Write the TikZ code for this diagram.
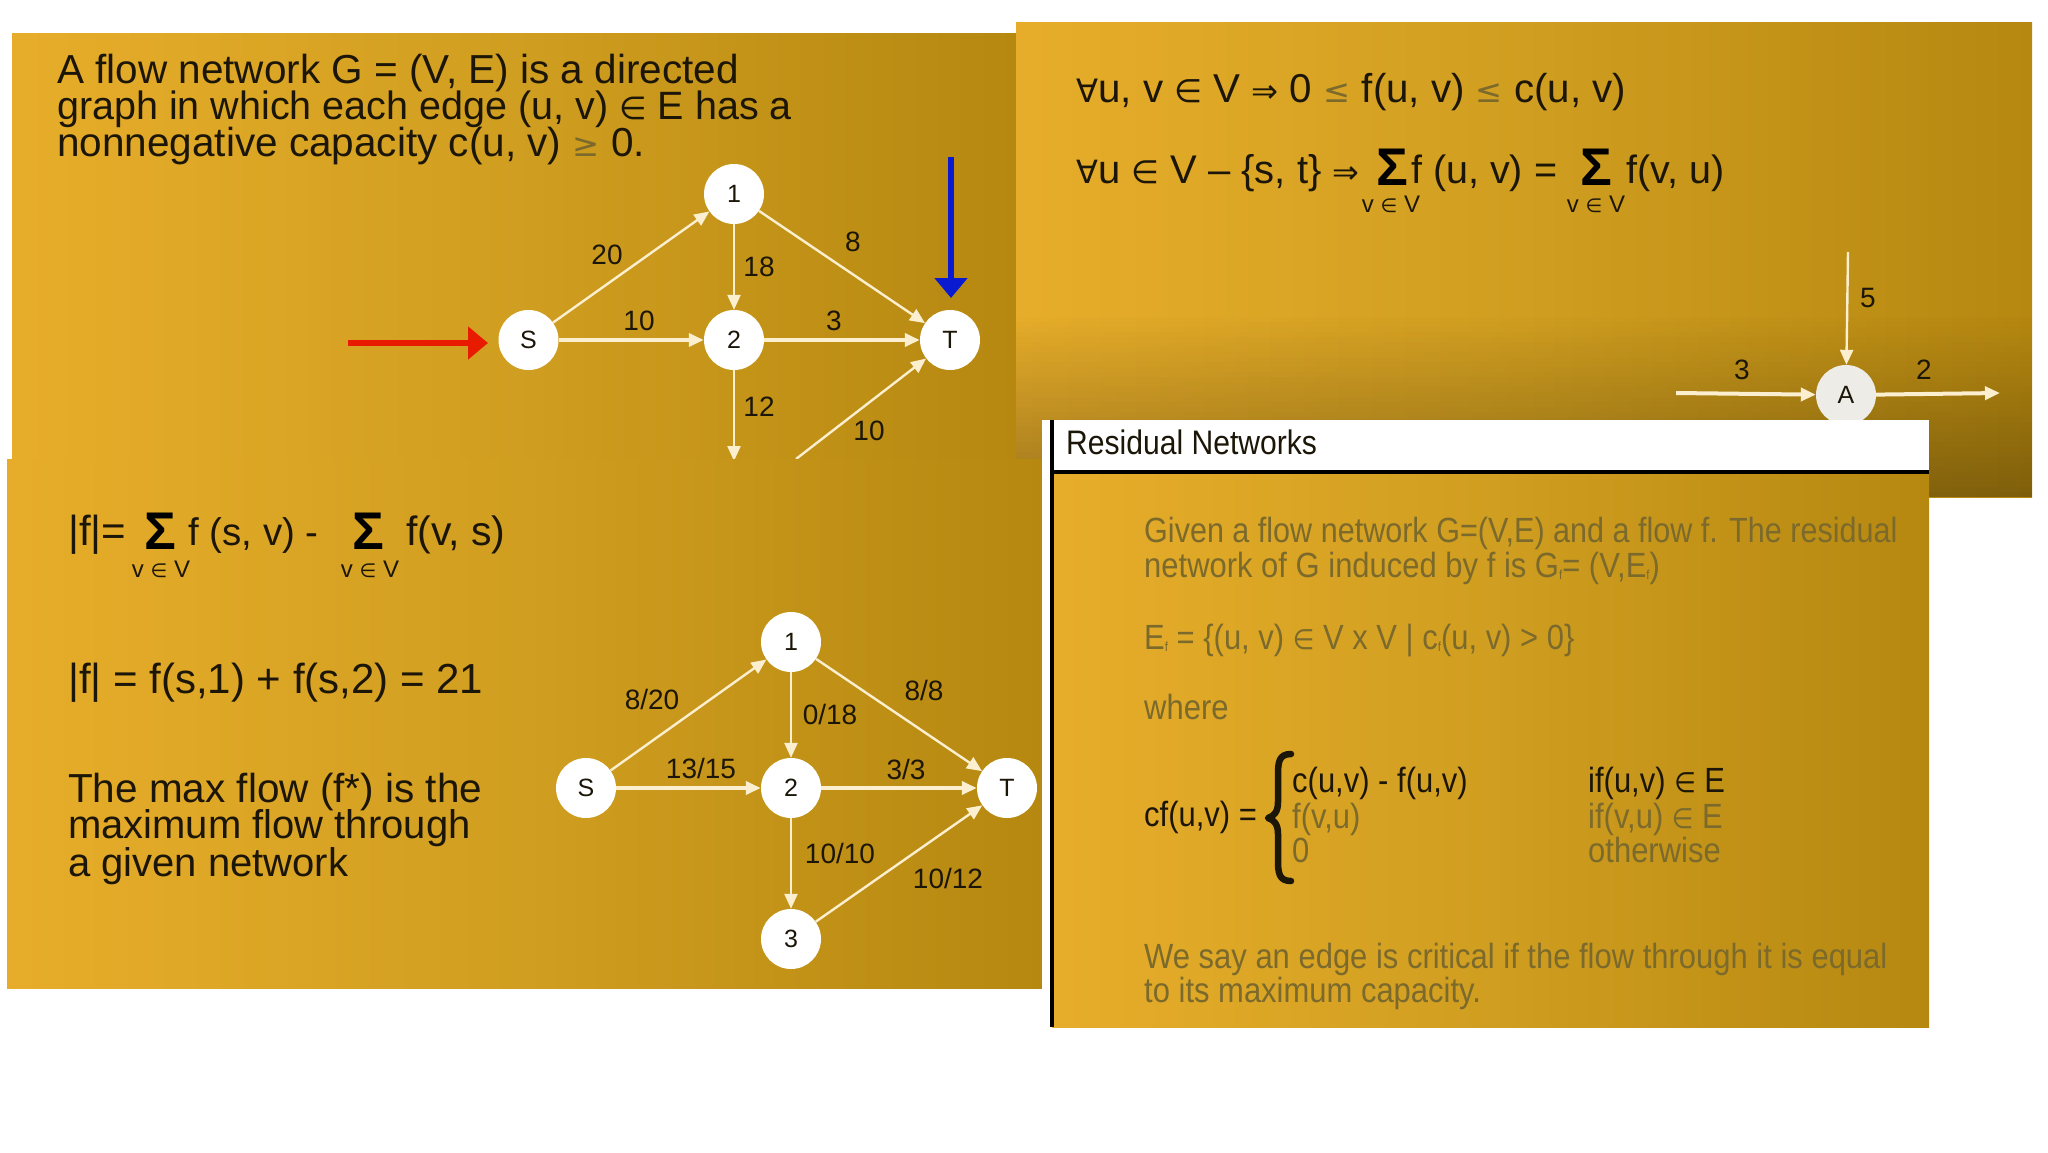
\documentclass[tikz,border=0pt]{standalone}
\usepackage{fontspec}
\usetikzlibrary{arrows.meta}
\setmainfont{Liberation Sans}
\newfontfamily\symf[Scale=0.8]{DejaVu Sans}
\newfontfamily\condf[FakeStretch=0.885]{Liberation Sans}
\newfontfamily\condfb[FakeStretch=0.873]{Liberation Sans}
\newfontfamily\condsym[Scale=0.8,FakeStretch=0.885]{DejaVu Sans}
\definecolor{goldL}{HTML}{E7AD2A}
\definecolor{goldM}{HTML}{D09E20}
\definecolor{goldR}{HTML}{B68810}
\definecolor{ink}{HTML}{1C1608}
\definecolor{dimink}{HTML}{7B6A2C}
\definecolor{edgecol}{HTML}{FBEFCF}
\newcommand{\el}{{\symf ∈}}
\newcommand{\celem}{{\condsym ∈}}
\newcommand{\tinysub}[1]{\raisebox{-2pt}{\fontsize{13}{13}\selectfont #1}}
\tikzset{
  panel/.style={left color=goldL, right color=goldR, middle color=goldM, draw=none},
  txt/.style={anchor=base west, inner sep=0pt, text=ink, font=\fontsize{#1}{#1}\selectfont},
  txt/.default=40,
  body/.style={anchor=base west, inner sep=0pt, text=dimink, font=\fontsize{35}{35}\selectfont\condf},
  bodyk/.style={body, text=ink},
  sigma/.style={anchor=base, inner sep=0pt, text=black, font=\fontsize{53}{53}\selectfont\bfseries},
  under/.style={anchor=base, inner sep=0pt, text=ink, font=\fontsize{24}{24}\selectfont},
  vertex/.style={circle, fill=white, inner sep=0pt, minimum size=60pt, text=ink, font=\fontsize{25}{25}\selectfont},
  flowedge/.style={draw=edgecol, line width=2.4pt, -{Triangle[length=15pt,width=13pt]}},
  flowwide/.style={flowedge, line width=4pt},
  edgelabel/.style={inner sep=0pt, text=ink, font=\fontsize{28}{28}\selectfont},
  pointer/.style={line width=6pt, -{Triangle[length=20pt,width=32pt]}}
}
\begin{document}
\begin{tikzpicture}[x=1pt,y=-1pt]
\useasboundingbox (0,0) rectangle (2048,1152);
\fill[white] (0,0) rectangle (2048,1152);
% ---------- panel 1
\shade[panel] (12,33) rectangle (1017,470);
\node[txt=40.5] (p1a) at (57,83) {A flow network G = (V, E) is a directed};
\node[txt=39.5] (p1b) at (57,119) {graph in which each edge (u, v) \el{} E has a};
\node[txt=40.5] (p1c) at (57,156) {nonnegative capacity c(u, v) \textcolor{dimink}{\symf ≥} 0.};
\node[vertex] (as) at (528.5,340) {S};
\node[vertex] (a1) at (734,194) {1};
\node[vertex] (a2) at (734,340) {2};
\node[vertex] (at) at (950,340) {T};
\coordinate (a3) at (734,461);
\coordinate (a4) at (796,459);
\draw[flowedge] (as) -- (a1);
\draw[flowwide] (as) -- (a2);
\draw[flowedge] (a1) -- (a2);
\draw[flowedge] (a1) -- (at);
\draw[flowwide] (a2) -- (at);
\draw[flowedge] (a2) -- (a3);
\draw[flowedge] (a4) -- (at);
\node[edgelabel] (l20) at (607,255) {20};
\node[edgelabel] (l18) at (759,267) {18};
\node[edgelabel] (l8) at (853,242) {8};
\node[edgelabel] (l10) at (639,321) {10};
\node[edgelabel] (l3) at (834,321) {3};
\node[edgelabel] (l12) at (759,407) {12};
\node[edgelabel] (l10b) at (869,431) {10};
\coordinate (rs) at (348,343);
\coordinate (re) at (488,343);
\coordinate (bs) at (951,157);
\coordinate (be) at (951,298);
\draw[pointer, draw={rgb,255:red,232;green,26;blue,0}, fill={rgb,255:red,232;green,26;blue,0}] (rs) -- (re);
\draw[pointer, draw={rgb,255:red,10;green,26;blue,208}, fill={rgb,255:red,10;green,26;blue,208}] (bs) -- (be);
% ---------- panel 2
\shade[panel] (1016,22) rectangle (2032,497);
\foreach \i in {0,...,35} {
  \pgfmathsetmacro{\stripop}{0.30*(\i+1)/36}
  \fill[black, opacity=\stripop] (1016,317+5*\i) rectangle (2032,322+5*\i);
}
\node[txt=40.3] (p2a) at (1076,102) {{\symf ∀}u, v \el{} V {\symf ⇒} 0 \textcolor{dimink}{\symf ≤} f(u, v) \textcolor{dimink}{\symf ≤} c(u, v)};
\node[txt] (p2b) at (1076,183) {{\symf ∀}u \el{} V -- \{s, t\} {\symf ⇒}};
\node[sigma] (p2s1) at (1392,185) {Σ};
\node[txt=39.5] (p2c) at (1411,183) {f (u, v) =};
\node[sigma] (p2s2) at (1596,185) {Σ};
\node[txt=39.5] (p2d) at (1626,183) {f(v, u)};
\node[under] (p2u1) at (1391,212) {v \el{} V};
\node[under] (p2u2) at (1596,212) {v \el{} V};
\node[vertex, fill={rgb,255:red,238;green,236;blue,230}] (ca) at (1846,395) {A};
\coordinate (cn) at (1848,252);
\coordinate (cw) at (1676,393);
\coordinate (ce) at (2000,393);
\draw[flowedge] (cn) -- (ca);
\draw[flowwide] (cw) -- (ca);
\draw[flowwide] (ca) -- (ce);
\node[edgelabel] (l5) at (1868,298) {5};
\node[edgelabel] (l3c) at (1742,370) {3};
\node[edgelabel] (l2c) at (1924,370) {2};
% ---------- panel 3
\shade[panel] (7,459) rectangle (1042,988);
\node[txt=42] (p3a) at (68,545) {|f|=};
\node[sigma] (p3s1) at (160,549) {Σ};
\node[txt=38.5] (p3b) at (188,545) {f (s, v) -};
\node[sigma] (p3s2) at (368,549) {Σ};
\node[txt=41] (p3c) at (406,545) {f(v, s)};
\node[under] (p3u1) at (161,577) {v \el{} V};
\node[under] (p3u2) at (370,577) {v \el{} V};
\node[txt=42] (p3d) at (68,693) {|f| = f(s,1) + f(s,2) = 21};
\node[txt=40.5] (p3e) at (68,802) {The max flow (f*) is the};
\node[txt] (p3f) at (68,838) {maximum flow through};
\node[txt] (p3g) at (68,876) {a given network};
\node[vertex] (bs2) at (586,788) {S};
\node[vertex] (b1) at (791,642) {1};
\node[vertex] (b2) at (791,788) {2};
\node[vertex] (bt) at (1007,788) {T};
\node[vertex] (b3) at (791,939) {3};
\draw[flowedge] (bs2) -- (b1);
\draw[flowwide] (bs2) -- (b2);
\draw[flowedge] (b1) -- (b2);
\draw[flowedge] (b1) -- (bt);
\draw[flowwide] (b2) -- (bt);
\draw[flowedge] (b2) -- (b3);
\draw[flowedge] (b3) -- (bt);
\node[edgelabel] (m1) at (652,699) {8/20};
\node[edgelabel] (m2) at (830,714) {0/18};
\node[edgelabel] (m3) at (924,690) {8/8};
\node[edgelabel] (m4) at (701,768) {13/15};
\node[edgelabel] (m5) at (906,769) {3/3};
\node[edgelabel] (m6) at (840,853) {10/10};
\node[edgelabel] (m7) at (948,878) {10/12};
% ---------- panel 4
\fill[white] (1042,420) rectangle (1929,1027);
\shade[panel] (1052,471) rectangle (1929,1027);
\fill[black] (1050,420) rectangle (1054,1027);
\fill[black] (1052,470) rectangle (1929,474);
\node[bodyk] (p4t) at (1066,454) {\fontsize{34}{34}\selectfont Residual Networks};
\node[body] (p4a) at (1144,542) {\condfb Given a flow network G=(V,E) and a flow f. The residual};
\node[body] (p4b) at (1144,577) {network of G induced by f is G\tinysub{f}= (V,E\tinysub{f})};
\node[body] (p4c) at (1144,649) {E\tinysub{f} = \{(u, v) \celem{} V x V | c\tinysub{f}(u, v) > 0\}};
\node[body] (p4d) at (1144,719) {where};
\node[bodyk] (p4e) at (1144,826) {cf(u,v) =};
\draw[ink, line width=6.5pt, line cap=round, line join=round] (1291,754) .. controls (1279,754) and (1278,762) .. (1278,775) -- (1278,802) .. controls (1278,812) and (1274,816) .. (1268,818) .. controls (1274,820) and (1278,824) .. (1278,834) -- (1278,860) .. controls (1278,873) and (1279,881) .. (1291,881);
\node[bodyk] (p4f) at (1292,792) {c(u,v) - f(u,v)};
\node[body] (p4g) at (1292,828) {f(v,u)};
\node[body] (p4h) at (1292,862) {0};
\node[bodyk] (p4i) at (1588,792) {if(u,v) \celem{} E};
\node[body] (p4j) at (1588,828) {if(v,u) \celem{} E};
\node[body] (p4k) at (1588,862) {otherwise};
\node[body] (p4l) at (1144,968) {We say an edge is critical if the flow through it is equal};
\node[body] (p4m) at (1144,1002) {to its maximum capacity.};
\end{tikzpicture}
\end{document}
